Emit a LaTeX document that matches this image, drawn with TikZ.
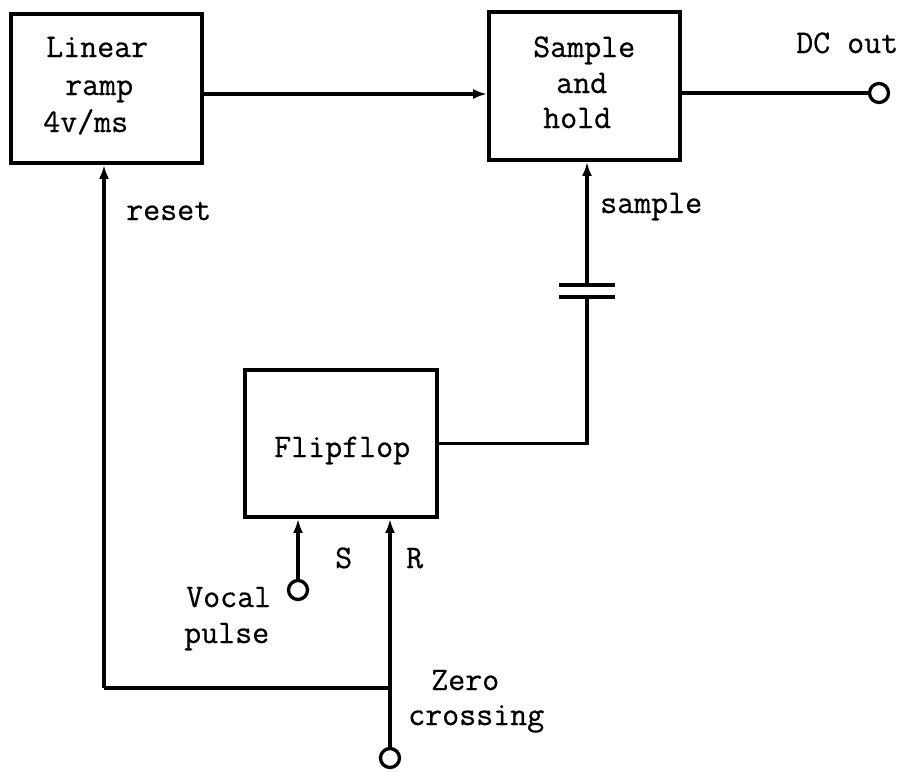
\documentclass[tikz,border=0pt]{standalone}
\usepackage{fontspec}
\newfontfamily\twfont{Latin Modern Mono}[FakeBold=0.6]
\usetikzlibrary{arrows.meta,calc}
\begin{document}
\begin{tikzpicture}[x=1pt,y=-1pt,
  every node/.style={font=\twfont\fontsize{33}{38.5}\selectfont},
  blk/.style={draw,line width=3.8pt,inner sep=0pt,align=center},
  term/.style={draw,circle,line width=3.3pt,fill=white,inner sep=0pt,minimum size=19pt},
  wire/.style={line width=3.2pt},
  arr/.style={wire,-{Latex[length=14pt,width=10pt]}},
  lbl/.style={inner sep=0pt,anchor=base west}]
\useasboundingbox (0,0) rectangle (909,771);
% blocks
\node[blk,minimum width=191pt,minimum height=149pt] (ramp) at (106.5,88.5) {};
\node[blk,minimum width=191pt,minimum height=148pt] (sh) at (584.5,86) {};
\node[blk,minimum width=192pt,minimum height=147pt] (ff) at (341,443.5) {};
% block texts
\node[lbl] (rampa) at (46,57) {Linear};
\node[lbl] (rampb) at (65,95) {ramp};
\node[lbl] (rampc) at (43,132) {4v/ms};
\node[lbl] (sha) at (533,57) {Sample};
\node[lbl] (shb) at (556,93) {and};
\node[lbl] (shc) at (543,128) {hold};
\node[lbl] (ffa) at (274,457) {Flipflop};
% terminals
\node[term] (dc) at (879,93) {};
\node[term] (voc) at (298,590) {};
\node[term] (zc) at (390,758) {};
% coordinates
\coordinate (ctop) at (587,285);
\coordinate (cbot) at (587,297);
\coordinate (jn) at (390,688);
\coordinate (rs) at (104,688);
% connectors
\draw[arr] ([yshift=-5.5pt]ramp.east) -- ([yshift=-5.5pt]ramp.east -| sh.west);
\draw[wire] ([yshift=-7pt]sh.east) -- (dc);
\draw[arr] (ctop) -- (ctop |- sh.south);
\draw[wire] (559,285) -- (615,285);
\draw[wire] (559,297) -- (615,297);
\draw[wire] (ff.east) -| (cbot);
\draw[arr] (voc) -- (voc |- ff.south);
\draw[arr] (zc) -- (zc |- ff.south);
\draw[wire] (jn) -- (rs);
\draw[arr] (rs) -- (rs |- ramp.south);
% labels
\node[lbl] (dcl) at (796,53) {DC out};
\node[lbl] (samp) at (600,213) {sample};
\node[lbl] (rst) at (126,220) {reset};
\node[lbl] (sl) at (335,568) {S};
\node[lbl] (rl) at (406,568) {R};
\node[lbl] (vo) at (186,607) {Vocal};
\node[lbl] (pu) at (184,643) {pulse};
\node[lbl] (ze) at (431,690) {Zero};
\node[lbl] (cr) at (408,725) {crossing};
\end{tikzpicture}
\end{document}
